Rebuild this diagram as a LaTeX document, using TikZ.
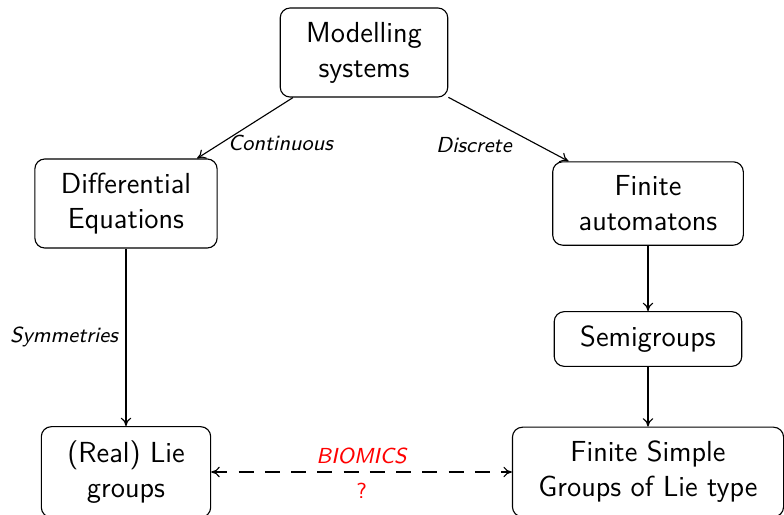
\documentclass[tikz,border=0pt]{standalone}
\usetikzlibrary{arrows.meta}
\begin{document}
\begin{tikzpicture}[x=0.4pt,y=-0.4pt,
  box/.style={draw,rounded corners=4pt,align=center,font=\sffamily\fontsize{11.6}{14}\selectfont,
    inner xsep=10.4pt,inner ysep=5.6pt,line width=0.45pt},
  tip/.tip={To[length=3.4pt,width=4.2pt]},
  link/.style={-tip,line width=0.45pt},
  lbl/.style={font=\sffamily\itshape\fontsize{8.7}{10}\selectfont,inner sep=2pt}]
  \useasboundingbox (0,0) rectangle (784,514);
  \node[box] (mod) at (364,52.5) {Modelling\\systems};
  \node[box] (dif) at (126,203.5) {Differential\\Equations};
  \node[box] (fin) at (648,203.5) {Finite\\automatons};
  \node[box] (sem) at (648,339) {Semigroups};
  \node[box] (lie) at (126,472) {(Real) Lie\\groups};
  \node[box] (fsg) at (648,472) {Finite Simple\\Groups of Lie type};

  \draw[link] (mod) -- node[lbl,pos=0.75,anchor=west,xshift=0.6pt] {Continuous} (dif);
  \draw[link] (mod) -- node[lbl,pos=0.75,anchor=east,xshift=-8.5pt] {Discrete} (fin);
  \draw[link] (dif) -- node[lbl,midway,left,xshift=-1pt] {Symmetries} (lie);
  \draw[link] (fin) -- (sem);
  \draw[link] (sem) -- (fsg);
  \draw[tip-tip,line width=0.45pt,dash pattern=on 6pt off 4.5pt] (lie) --
    node[lbl,above,text=red,yshift=1pt] {BIOMICS}
    node[below,text=red,font=\sffamily\fontsize{8.7}{10}\selectfont,yshift=-1pt] {?} (fsg);
\end{tikzpicture}
\end{document}
